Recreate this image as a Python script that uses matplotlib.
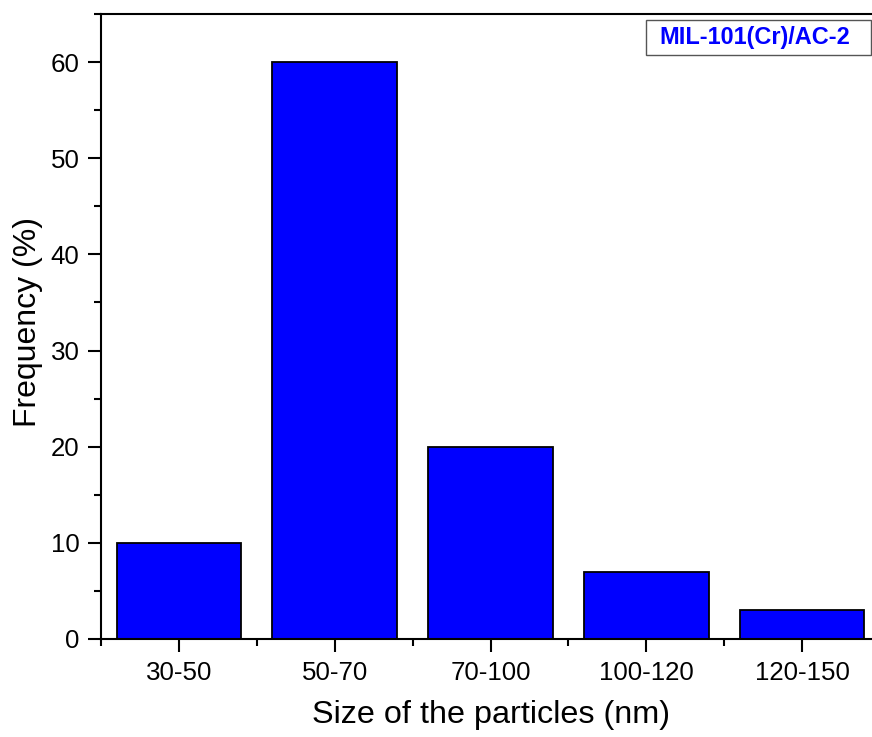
import matplotlib
matplotlib.use("Agg")
import matplotlib.pyplot as plt
from matplotlib.patches import Rectangle
from matplotlib.ticker import MultipleLocator, FixedLocator

categories = ["30-50", "50-70", "70-100", "100-120", "120-150"]
frequency = [10, 60, 20, 7, 3]
legend_label = "MIL-101(Cr)/AC-2"

plt.rcParams['font.family'] = ['Liberation Sans', 'DejaVu Sans']

W, H = 872, 737
fig = plt.figure(figsize=(W / 100, H / 100), dpi=100)
left, right, bottom, top = 101, 880, 639, 14
ax = fig.add_axes([left / W, 1 - bottom / H, (right - left) / W, (bottom - top) / H])

x = list(range(len(categories)))
ax.bar(x, frequency, width=0.8, color='#0000ff', edgecolor='black', linewidth=1.3, zorder=2)

ax.set_xlim(-0.5, len(categories) - 0.5)
ax.set_ylim(0, 65)
ax.set_xticks(x)
ax.set_xticklabels(categories)
ax.xaxis.set_minor_locator(FixedLocator([i + 0.5 for i in range(-1, len(categories))]))
ax.yaxis.set_major_locator(MultipleLocator(10))
ax.yaxis.set_minor_locator(MultipleLocator(5))

for s in ax.spines.values():
    s.set_linewidth(1.5)
ax.spines['right'].set_visible(False)

renderer = fig.canvas.get_renderer()


def fit(txt, target, horizontal=True):
    for _ in range(3):
        bb = txt.get_window_extent(renderer=renderer)
        cur = bb.width if horizontal else bb.height
        txt.set_fontsize(txt.get_fontsize() * target / cur)


# tick label size fitted to reference width of "120-150" (~95 px)
probe = fig.text(0, 0, "120-150", fontsize=18)
fit(probe, 95)
tick_fs = probe.get_fontsize()
probe.remove()

ax.tick_params(which='major', direction='out', length=9.5, width=1.5, labelsize=tick_fs, pad=6)
ax.tick_params(which='minor', direction='out', length=5, width=1.5)
ax.tick_params(axis='x', which='both', top=False)
ax.tick_params(axis='y', which='both', right=False)

xl = fig.text(491 / W, 1 - 723 / H, "Size of the particles (nm)", fontsize=22, ha='center', va='baseline')
fit(xl, 358)
yl = fig.text(28 / W, 1 - 322 / H, "Frequency (%)", fontsize=22, ha='center', va='center', rotation=90)
fit(yl, 210, horizontal=False)

fig.patches.append(Rectangle((646 / W, 1 - 55 / H), 225 / W, 35 / H, transform=fig.transFigure,
                             facecolor='white', edgecolor='#555555', linewidth=1.0, zorder=5))
lg = fig.text(755 / W, 1 - 37.5 / H, legend_label, fontsize=17, fontweight='bold', color='#0000ff',
              ha='center', va='center', zorder=6)
fit(lg, 191)

fig.savefig("out.png", dpi=100)
